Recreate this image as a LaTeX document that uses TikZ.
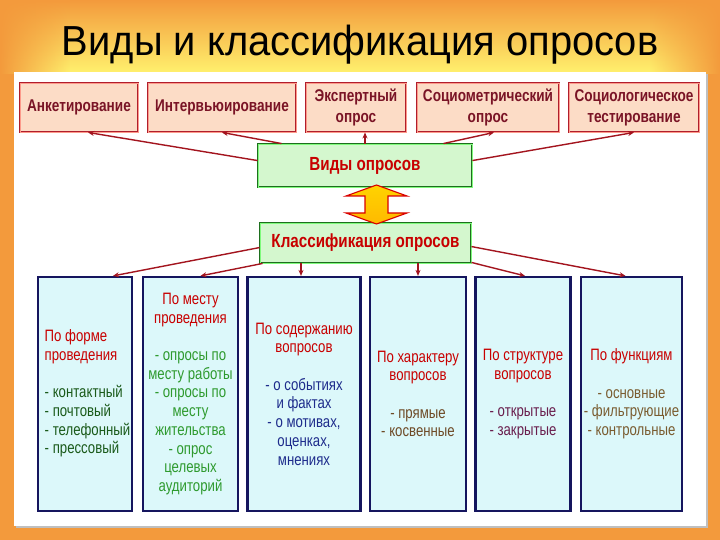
\documentclass[tikz,border=0pt]{standalone}
\usepackage{fontspec}
\setmainfont[FakeStretch=0.8]{Liberation Sans}
\newfontfamily\titlefont[FakeStretch=0.95]{Liberation Sans}
\usetikzlibrary{arrows.meta,calc,fadings}
\definecolor{bgorange}{HTML}{F39A3C}
\definecolor{bgyellow}{HTML}{FFF26E}
\definecolor{peach}{HTML}{FCDCC6}
\definecolor{peachline}{HTML}{B01E2C}
\definecolor{maroon}{HTML}{7A1426}
\definecolor{lgreen}{HTML}{D4F7CE}
\definecolor{dgreen}{HTML}{1E6E1E}
\definecolor{headred}{HTML}{C80000}
\definecolor{lcyan}{HTML}{DCF8FA}
\definecolor{navyline}{HTML}{15155E}
\definecolor{arrred}{HTML}{A3141E}
\definecolor{txgreenA}{HTML}{1A5A1A}
\definecolor{txgreenB}{HTML}{2E9A2E}
\definecolor{txnavy}{HTML}{1E2C8C}
\definecolor{txbrown}{HTML}{6E4A26}
\definecolor{txpurple}{HTML}{6A1F4E}
\definecolor{txolive}{HTML}{7A5C30}
\definecolor{arrfill}{HTML}{FFC000}
\tikzset{
  topbox/.style={draw=peachline, double=peach!70!red, double distance=0.7pt, line width=0.9pt,
    fill=peach, minimum height=49pt, inner sep=0pt, align=center, text=maroon,
    font=\bfseries\fontsize{17}{21}\selectfont},
  greenbox/.style={draw=dgreen, double=lgreen!60!green, double distance=0.8pt, line width=0.9pt,
    fill=lgreen, inner sep=0pt, text=headred, font=\bfseries\fontsize{19}{22}\selectfont},
  lowbox/.style={draw=navyline, line width=2.2pt, fill=lcyan, minimum height=234pt,
    inner sep=0pt, align=center, font=\fontsize{16.5}{18.7}\selectfont},
  conn/.style={draw=arrred, line width=1.4pt, -{Stealth[length=6pt,width=5pt,fill=red!85!black]}},
}
\begin{document}
\begin{tikzpicture}[x=1pt,y=-1pt]
\useasboundingbox (0,0) rectangle (720,540);
% background
\fill[bgorange] (0,0) rectangle (720,540);
\shade[top color=bgorange, bottom color=bgyellow] (0,0) rectangle (720,74);
\fill[bgorange, path fading=east] (0,0) rectangle (70,74);
\fill[bgorange, path fading=west] (650,0) rectangle (720,74);
\fill[black!25] (16,74) rectangle (708,528);
\fill[white] (14,72) rectangle (706,526);
% title
\node[font=\titlefont\fontsize{42}{42}\selectfont] (title) at (360,45) {Виды и классификация опросов};
% top boxes
\node[topbox, minimum width=118pt] (t1) at (79,107.5) {Анкетирование};
\node[topbox, minimum width=148pt] (t2) at (222,107.5) {Интервьюирование};
\node[topbox, minimum width=100pt] (t3) at (356,107.5) {Экспертный\\опрос};
\node[topbox, minimum width=142pt] (t4) at (488,107.5) {Социометрический\\опрос};
\node[topbox, minimum width=130pt] (t5) at (634,107.5) {Социологическое\\тестирование};
% green boxes
\node[greenbox, minimum width=214pt, minimum height=43pt] (vid) at (365,165.5) {Виды опросов};
\node[greenbox, minimum width=211pt, minimum height=40pt] (cls) at (365.5,243) {Классификация опросов};
% double arrow
\path[draw=red!85!black, line width=1.1pt, line join=miter, top color=arrfill!70!yellow, bottom color=arrfill!90!orange]
  (376.5,185) -- (407,196) -- (388,196) -- (388,213) -- (407,213) -- (376.5,224)
  -- (346,213) -- (365,213) -- (365,196) -- (346,196) -- cycle;
% lower boxes
\node[lowbox, minimum width=94pt] (b1) at (85,394) {%
  \hspace*{5pt}\begin{tabular}{@{}l@{}}\color{headred}По форме\\\color{headred}проведения\\[18.7pt]
  \color{txgreenA}- контактный\\\color{txgreenA}- почтовый\\\color{txgreenA}- телефонный\\\color{txgreenA}- прессовый\end{tabular}};
\node[lowbox, minimum width=95pt, text=txgreenB] (b2) at (190.5,394) {%
  \textcolor{headred}{По месту}\\\textcolor{headred}{проведения}\\[18.7pt]
  - опросы по\\месту работы\\- опросы по\\месту\\жительства\\- опрос\\целевых\\аудиторий};
\node[lowbox, minimum width=113pt, text=txnavy] (b3) at (304,394) {%
  \textcolor{headred}{По содержанию}\\\textcolor{headred}{вопросов}\\[18.7pt]
  - о событиях\\и фактах\\- о мотивах,\\оценках,\\мнениях};
\node[lowbox, minimum width=96pt, text=txbrown] (b4) at (418,394) {%
  \textcolor{headred}{По характеру}\\\textcolor{headred}{вопросов}\\[18.7pt]
  - прямые\\- косвенные};
\node[lowbox, minimum width=95pt, text=txpurple] (b5) at (523,394) {%
  \textcolor{headred}{По структуре}\\\textcolor{headred}{вопросов}\\[18.7pt]
  - открытые\\- закрытые};
\node[lowbox, minimum width=101pt, text=txolive] (b6) at (631.5,394) {%
  \textcolor{headred}{По функциям}\\[18.7pt]
  - основные\\- фильтрующие\\- контрольные};
% connectors: Виды опросов -> top row
\draw[conn] ([yshift=-17pt]vid.north west) -- ([xshift=9pt]t1.south);
\draw[conn] ([xshift=24pt]vid.north west) -- (t2.south);
\draw[conn] ([xshift=9pt]t3.south |- vid.north) -- ([xshift=9pt]t3.south);
\draw[conn] ([xshift=-29pt]vid.north east) -- ([xshift=6pt]t4.south);
\draw[conn] ([yshift=-17pt]vid.north east) -- (t5.south);
% connectors: Классификация -> lower row
\draw[conn] ([yshift=-25pt]cls.north west) -- ([xshift=28pt]b1.north);
\draw[conn] ([xshift=3pt]cls.south west) -- ([xshift=10pt]b2.north);
\draw[conn] ([xshift=-3pt]b3.north |- cls.south) -- ([xshift=-3pt]b3.north);
\draw[conn] (b4.north |- cls.south) -- (b4.north);
\draw[conn] ([yshift=1pt]cls.south east) -- ([xshift=2pt]b5.north);
\draw[conn] ([yshift=-24pt]cls.north east) -- ([xshift=-6pt]b6.north);
\end{tikzpicture}
\end{document}
